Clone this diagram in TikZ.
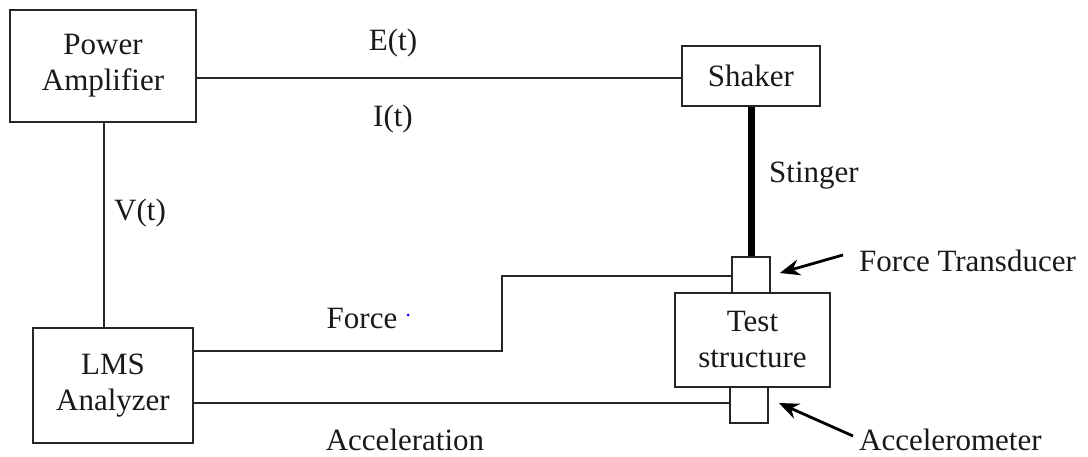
\documentclass[tikz,border=0pt]{standalone}
\usepackage{fontspec}
\setmainfont{Liberation Serif}
\usetikzlibrary{arrows.meta}
\tikzset{
  box/.style={draw=black!85, line width=1.7pt, inner sep=0pt, align=center,
    font=\fontsize{31}{36}\selectfont, text=black!90},
  lbl/.style={inner sep=0pt, font=\fontsize{31}{36}\selectfont, text=black!90},
  wire/.style={draw=black!85, line width=1.7pt},
  stingerline/.style={line width=7pt, draw=black},
  pointer/.style={line width=2.8pt, -{Stealth[length=20pt,width=16pt]}}
}
\begin{document}
\begin{tikzpicture}[x=1pt,y=-1pt]
\useasboundingbox (0,0) rectangle (1088,457);
\fill[white] (0,0) rectangle (1088,457);

% blocks
\node[box, minimum width=186, minimum height=112] (pa) at (103,66) {Power\\Amplifier};
\node[box, minimum width=138, minimum height=60] (shaker) at (751,76) {Shaker};
\node[box, minimum width=160, minimum height=115] (lms) at (113,385.5) {LMS\\Analyzer};
\node[box, minimum width=155, minimum height=94] (test) at (752.5,340) {Test\\structure};
\node[box, minimum width=38, minimum height=36] (ft) at (751,275) {};
\node[box, minimum width=38, minimum height=36] (acc) at (749,405) {};

% signal labels
\node[lbl] (et) at (393,43) {E(t)};
\node[lbl] (it) at (393,119) {I(t)};
\node[lbl] (vt) at (140,213) {V(t)};
\node[lbl] (stl) at (814,176) {Stinger};
\node[lbl] (fl) at (362,319) {Force};
\node[lbl] (al) at (405,440) {Acceleration};
\node[lbl, anchor=west] (ftl) at (859,261) {Force Transducer};
\node[lbl, anchor=west] (accl) at (859,440) {Accelerometer};
\fill[blue] (408,315) circle (1.5pt);

% wiring
\draw[wire] (pa.east |- 0,78) -- (shaker.west |- 0,78);
\draw[wire] (pa.south -| 104,0) -- (lms.north -| 104,0);
\draw[stingerline] (shaker.south) -- (ft.north);
\coordinate (fbend) at (502,276);
\draw[wire] ([yshift=34.5pt]lms.east) -| (fbend) -- (fbend -| ft.west);
\draw[wire] ([yshift=-17.5pt]lms.east) -- ([yshift=-17.5pt]lms.east -| acc.west);

% pointers
\coordinate (ftp) at (843,255);
\coordinate (accp) at (853,436);
\draw[pointer] (ftp) -- ([xshift=9pt,yshift=2pt]ft.east);
\draw[pointer] (accp) -- ([xshift=10pt,yshift=2pt]acc.east);
\end{tikzpicture}
\end{document}
